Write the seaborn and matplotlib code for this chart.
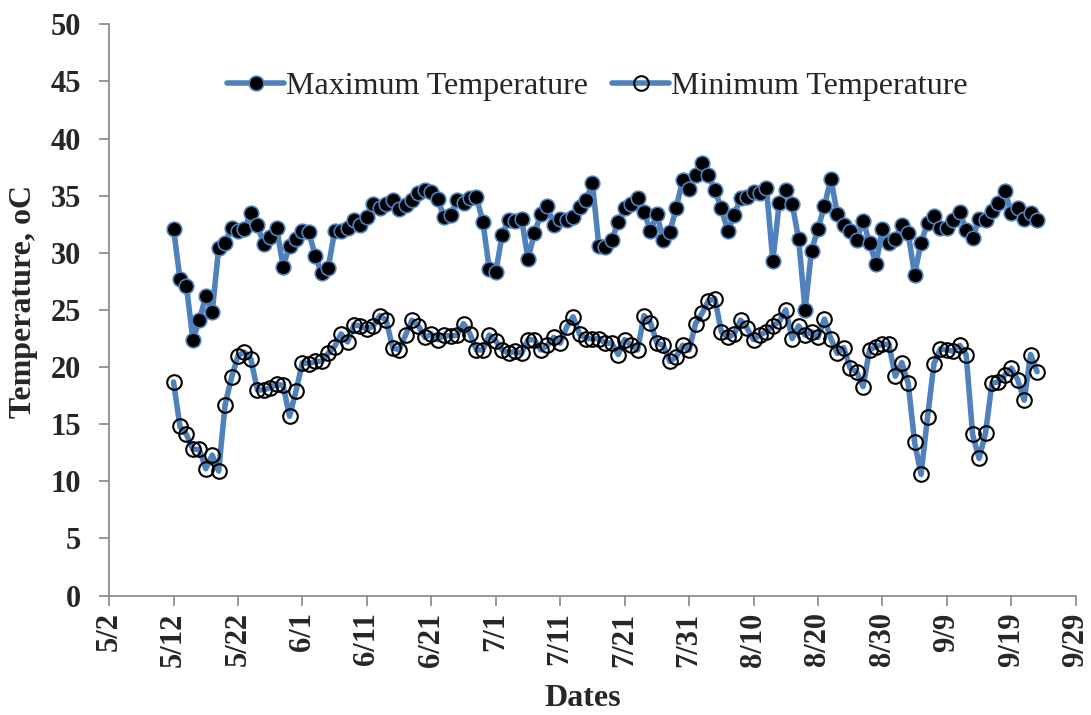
import numpy as np
import pandas as pd
import seaborn as sns
import matplotlib.pyplot as plt
import matplotlib.dates as mdates
from matplotlib.ticker import FuncFormatter

# Daily values, 5/12 onward
tmax = [32.1, 27.7, 27.1, 22.4, 24.1, 26.2, 24.8, 30.4, 30.9, 32.2,
        31.9, 32.1, 33.5, 32.4, 30.8, 31.4, 32.2, 28.8, 30.6, 31.2,
        31.9, 31.8, 29.7, 28.2, 28.7, 31.9, 31.9, 32.2, 32.9, 32.4,
        33.1, 34.3, 33.9, 34.3, 34.6, 33.8, 34.2, 34.6, 35.2, 35.5,
        35.3, 34.7, 33.1, 33.3, 34.6, 34.4, 34.8, 34.9, 32.7, 28.6,
        28.3, 31.6, 32.9, 32.8, 33.0, 29.5, 31.7, 33.4, 34.1, 32.4,
        33.0, 32.9, 33.1, 34.0, 34.6, 36.1, 30.6, 30.5, 31.1, 32.7,
        33.9, 34.3, 34.8, 33.6, 31.9, 33.4, 31.1, 31.8, 33.9, 36.4,
        35.6, 36.8, 37.9, 36.8, 35.5, 33.9, 31.9, 33.3, 34.8, 34.9,
        35.3, 35.2, 35.7, 29.3, 34.4, 35.5, 34.3, 31.2, 25.0, 30.2,
        32.1, 34.1, 36.5, 33.4, 32.4, 31.9, 31.1, 32.8, 30.9, 29.0,
        32.1, 30.9, 31.2, 32.4, 31.7, 28.1, 30.9, 32.6, 33.2, 32.2,
        32.2, 32.9, 33.6, 32.0, 31.3, 33.0, 32.9, 33.7, 34.4, 35.4,
        33.5, 33.9, 33.0, 33.5, 32.9]

tmin = [18.7, 14.8, 14.1, 12.8, 12.8, 11.1, 12.3, 10.9, 16.7, 19.1,
        21.0, 21.3, 20.7, 18.0, 18.0, 18.2, 18.5, 18.4, 15.7, 17.9,
        20.4, 20.3, 20.5, 20.5, 21.2, 21.8, 22.9, 22.2, 23.7, 23.6,
        23.3, 23.6, 24.5, 24.1, 21.7, 21.5, 22.8, 24.1, 23.6, 22.6,
        22.9, 22.4, 22.8, 22.7, 22.8, 23.8, 22.9, 21.5, 21.5, 22.8,
        22.3, 21.5, 21.2, 21.4, 21.2, 22.4, 22.4, 21.5, 21.9, 22.6,
        22.1, 23.5, 24.4, 22.9, 22.5, 22.5, 22.5, 22.1, 22.1, 21.1,
        22.4, 21.9, 21.5, 24.5, 23.9, 22.1, 21.9, 20.5, 20.9, 21.9,
        21.5, 23.8, 24.7, 25.8, 26.0, 23.1, 22.6, 22.9, 24.1, 23.4,
        22.4, 22.8, 23.1, 23.6, 24.0, 25.0, 22.5, 23.6, 22.8, 23.1,
        22.6, 24.2, 22.5, 21.2, 21.7, 19.9, 19.6, 18.3, 21.5, 21.8,
        22.0, 22.0, 19.2, 20.4, 18.6, 13.4, 10.6, 15.6, 20.3, 21.6,
        21.5, 21.4, 21.9, 21.1, 14.1, 12.0, 14.2, 18.6, 18.7, 19.3,
        19.9, 18.9, 17.1, 21.1, 19.6]

dates = pd.date_range('2021-05-12', periods=len(tmax), freq='D')
df = pd.DataFrame({'date': dates, 'tmax': tmax, 'tmin': tmin})

sns.set_theme(style="white")
plt.rcParams['font.family'] = ['Liberation Serif', 'DejaVu Serif']

line_col = '#4F81BD'
axis_col = '#868686'

fig = plt.figure(figsize=(10.91, 7.15), dpi=100)
ax = fig.add_axes([0.100, 0.167, 0.886, 0.799])

sns.lineplot(data=df, x='date', y='tmax', ax=ax, color=line_col, linewidth=4,
             marker='o', markersize=10.5, markerfacecolor='black',
             markeredgecolor=line_col, markeredgewidth=1.2,
             label='Maximum Temperature')
sns.lineplot(data=df, x='date', y='tmin', ax=ax, color=line_col, linewidth=4,
             marker='o', markersize=10.5, markerfacecolor='none',
             markeredgecolor='black', markeredgewidth=1.5,
             label='Minimum Temperature')

ax.set_xlim(pd.Timestamp('2021-05-02'), pd.Timestamp('2021-09-29'))
ax.set_ylim(0, 50)
ax.set_yticks(np.arange(0, 51, 5))
ax.set_xticks(pd.date_range('2021-05-02', '2021-09-29', freq='10D'))
ax.xaxis.set_major_formatter(FuncFormatter(
    lambda v, p: "{}/{}".format(mdates.num2date(v).month, mdates.num2date(v).day)))

for s in ['top', 'right']:
    ax.spines[s].set_visible(False)
for s in ['left', 'bottom']:
    ax.spines[s].set_color(axis_col)
    ax.spines[s].set_linewidth(1.2)

ax.tick_params(axis='y', direction='out', length=7, width=1.2, color=axis_col,
               labelsize=22, left=True, pad=13)
ax.tick_params(axis='x', direction='out', length=7, width=1.2, color=axis_col,
               labelsize=22, bottom=True, rotation=90, pad=5)
for lbl in ax.get_xticklabels() + ax.get_yticklabels():
    lbl.set_fontweight('bold')

ax.set_xlabel('Dates', fontsize=23, fontweight='bold')
ax.set_ylabel('Temperature, oC', fontsize=23, fontweight='bold')
ax.xaxis.set_label_coords(0.49, -0.155)
ax.yaxis.set_label_coords(-0.074, 0.515)

ax.legend(loc='center', bbox_to_anchor=(0.505, 0.892), ncol=2, frameon=False,
          fontsize=23, handlelength=1.8, columnspacing=0.75, handletextpad=0.05)

plt.savefig('out.png', dpi=100)
plt.close()
